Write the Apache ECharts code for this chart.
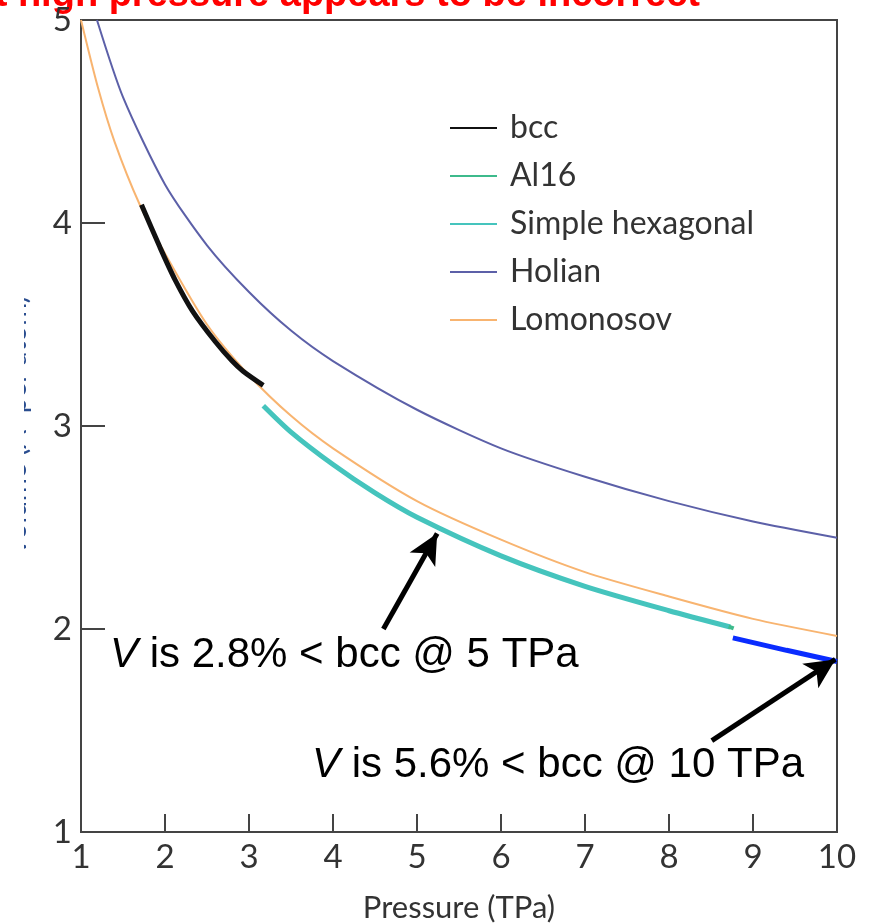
<!DOCTYPE html>
<html>
<head>
<meta charset="utf-8">
<script src="https://cdn.jsdelivr.net/npm/echarts@6/dist/echarts.min.js"></script>
<style>
  html, body { margin: 0; padding: 0; background: #fff; }
  #chart { width: 871px; height: 923px; }
</style>
</head>
<body>
<div id="chart"></div>
<script>
// values: [pressure (TPa), volume]
const bcc = [[1.72, 4.09], [1.94, 3.88], [2.12, 3.72], [2.33, 3.565], [2.6, 3.415], [2.8, 3.32], [2.93, 3.27], [3.17, 3.2]];
const al16 = [[8.71, 2.012], [8.77, 2.003]];
const simpleHex = [[3.17, 3.1], [3.5, 2.97], [4, 2.81], [4.5, 2.67], [5, 2.55], [6, 2.36], [7, 2.21], [8, 2.09], [8.73, 2.01]];
const holian = [[1.19, 5.0], [1.5, 4.62], [2, 4.19], [2.5, 3.89], [3, 3.66], [3.5, 3.47], [4, 3.32], [5, 3.08], [6, 2.89], [7, 2.75], [8, 2.63], [9, 2.53], [10, 2.45]];
const lomonosov = [[1, 5.0], [1.2, 4.67], [1.4, 4.4], [1.7, 4.09], [2, 3.85], [2.5, 3.5], [3, 3.25], [3.5, 3.05], [4, 2.89], [5, 2.63], [6, 2.44], [7, 2.28], [8, 2.16], [9, 2.05], [10, 1.966]];
const highlight = [[8.76, 1.956], [9.4, 1.895], [10, 1.84]];

const arrow5 = [[4.6, 2.0], [5.24, 2.47]];
const arrow10 = [[8.51, 1.45], [9.98, 1.85]];

const xTicks = { min: 1, max: 10, interval: 1 };
const yTicks = { min: 1, max: 5, interval: 1 };

const legendNames = ['bcc', 'Al16', 'Simple hexagonal', 'Holian', 'Lomonosov'];

const chart = echarts.init(document.getElementById('chart'));

const tickFont = { fontFamily: 'Lato', fontSize: 33, color: '#333' };

function curve(name, data, color, width) {
  return {
    type: 'line',
    name,
    data,
    color,
    smooth: 0.25,
    showSymbol: false,
    symbol: 'none',
    lineStyle: { color, width },
    z: 3,
  };
}

const option = {
  animation: false,
  backgroundColor: '#fff',
  grid: {
    left: 81, right: 34, top: 20, bottom: 91,
    outerBoundsMode: 'none',
    containLabel: false,
    show: true,
    borderColor: '#444',
    borderWidth: 2,
  },
  legend: {
    orient: 'vertical',
    left: 445,
    top: 107,
    itemWidth: 47,
    itemHeight: 2,
    itemGap: 16,
    icon: 'rect',
    data: legendNames,
    textStyle: {
      fontFamily: 'Lato',
      fontSize: 32,
      color: '#333',
      lineHeight: 32,
      padding: [0, 0, 0, 8],
    },
  },
  xAxis: {
    type: 'value',
    min: xTicks.min,
    max: xTicks.max,
    interval: xTicks.interval,
    name: 'Pressure (TPa)',
    nameLocation: 'middle',
    nameGap: 60,
    nameTextStyle: { fontFamily: 'Lato', fontSize: 31, color: '#333' },
    axisLine: { lineStyle: { color: '#444', width: 2 } },
    axisTick: { inside: true, length: 18, lineStyle: { color: '#444', width: 2 } },
    axisLabel: Object.assign({ margin: 9 }, tickFont),
    splitLine: { show: false },
  },
  yAxis: {
    type: 'value',
    min: yTicks.min,
    max: yTicks.max,
    interval: yTicks.interval,
    name: 'Volume (Å³ per atom)',
    nameLocation: 'middle',
    nameGap: 50,
    nameTextStyle: { fontFamily: 'Lato', fontSize: 28, color: '#2a4d8f' },
    axisLine: { lineStyle: { color: '#444', width: 2 } },
    axisTick: { inside: true, length: 24, lineStyle: { color: '#444', width: 2 } },
    axisLabel: Object.assign({ margin: 9 }, tickFont),
    splitLine: { show: false },
  },
  series: [
    curve('Lomonosov', lomonosov, '#f8b470', 2),
    curve('Holian', holian, '#5c60a8', 2),
    curve('Simple hexagonal', simpleHex, '#45c4bd', 5),
    curve('Al16', al16, '#3dba8c', 4),
    curve('bcc', bcc, '#111111', 5),
    {
      type: 'line',
      name: 'highlight',
      data: highlight,
      color: '#0a2cff',
      showSymbol: false,
      symbol: 'none',
      lineStyle: { color: '#0a2cff', width: 5 },
      z: 4,
      markLine: {
        silent: true,
        symbol: ['none', 'arrow'],
        symbolSize: [22, 30],
        label: { show: false },
        lineStyle: { color: '#000', width: 5, type: 'solid' },
        data: [
          [{ coord: arrow5[0] }, { coord: arrow5[1] }],
          [{ coord: arrow10[0] }, { coord: arrow10[1] }],
        ],
      },
    },
  ],
  graphic: [
    // the slide hides most of the y-axis title; only its edge shows
    {
      type: 'rect',
      shape: { x: 0, y: 250, width: 24, height: 340 },
      style: { fill: '#fff' },
      z: 100,
    },
    {
      type: 'text',
      x: 700,
      y: -4,
      style: {
        text: 'EOS at high pressure appears to be incorrect',
        font: 'bold 38px "Liberation Sans", Arial, sans-serif',
        fill: '#ff0000',
        align: 'right',
        verticalAlign: 'middle',
      },
    },
    {
      type: 'text',
      x: 110,
      y: 655,
      style: {
        text: '{v|V} is 2.8% < bcc @ 5 TPa',
        font: '42px "Liberation Sans", Arial, sans-serif',
        fill: '#000',
        verticalAlign: 'middle',
        rich: { v: { fontStyle: 'italic', fontSize: 42, fontFamily: 'Liberation Sans' } },
      },
    },
    {
      type: 'text',
      x: 312,
      y: 765,
      style: {
        text: '{v|V} is 5.6% < bcc @ 10 TPa',
        font: '42px "Liberation Sans", Arial, sans-serif',
        fill: '#000',
        verticalAlign: 'middle',
        rich: { v: { fontStyle: 'italic', fontSize: 42, fontFamily: 'Liberation Sans' } },
      },
    },
  ],
};

chart.setOption(option);
</script>
</body>
</html>
